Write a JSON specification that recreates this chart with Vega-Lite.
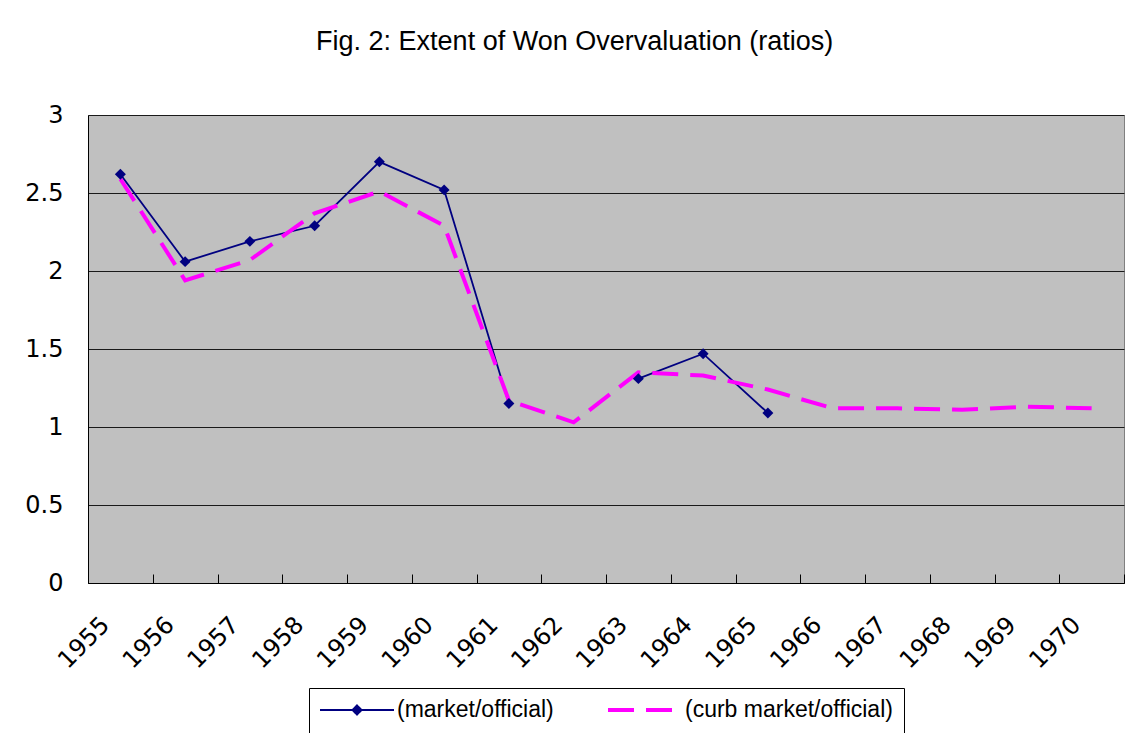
{
  "$schema": "https://vega.github.io/schema/vega-lite/v6.json",
  "width": 1036,
  "height": 468,
  "autosize": {"type": "none"},
  "padding": {"left": 88, "top": 115, "right": 4, "bottom": 150},
  "background": "white",
  "title": {
    "text": "Fig. 2: Extent of Won Overvaluation (ratios)",
    "frame": "bounds",
    "anchor": "middle",
    "font": "Liberation Sans",
    "fontSize": 27,
    "fontWeight": "normal",
    "color": "black",
    "offset": 47
  },
  "data": {
    "values": [
      {"year": "1955", "series": "(market/official)", "ratio": 2.62},
      {"year": "1956", "series": "(market/official)", "ratio": 2.06},
      {"year": "1957", "series": "(market/official)", "ratio": 2.19},
      {"year": "1958", "series": "(market/official)", "ratio": 2.29},
      {"year": "1959", "series": "(market/official)", "ratio": 2.70},
      {"year": "1960", "series": "(market/official)", "ratio": 2.52},
      {"year": "1961", "series": "(market/official)", "ratio": 1.15},
      {"year": "1962", "series": "(market/official)", "ratio": null},
      {"year": "1963", "series": "(market/official)", "ratio": 1.31},
      {"year": "1964", "series": "(market/official)", "ratio": 1.47},
      {"year": "1965", "series": "(market/official)", "ratio": 1.09},
      {"year": "1955", "series": "(curb market/official)", "ratio": 2.59},
      {"year": "1956", "series": "(curb market/official)", "ratio": 1.94},
      {"year": "1957", "series": "(curb market/official)", "ratio": 2.07},
      {"year": "1958", "series": "(curb market/official)", "ratio": 2.37},
      {"year": "1959", "series": "(curb market/official)", "ratio": 2.51},
      {"year": "1960", "series": "(curb market/official)", "ratio": 2.29},
      {"year": "1961", "series": "(curb market/official)", "ratio": 1.17},
      {"year": "1962", "series": "(curb market/official)", "ratio": 1.03},
      {"year": "1963", "series": "(curb market/official)", "ratio": 1.35},
      {"year": "1964", "series": "(curb market/official)", "ratio": 1.33},
      {"year": "1965", "series": "(curb market/official)", "ratio": 1.24},
      {"year": "1966", "series": "(curb market/official)", "ratio": 1.12},
      {"year": "1967", "series": "(curb market/official)", "ratio": 1.12},
      {"year": "1968", "series": "(curb market/official)", "ratio": 1.11},
      {"year": "1969", "series": "(curb market/official)", "ratio": 1.13},
      {"year": "1970", "series": "(curb market/official)", "ratio": 1.12}
    ]
  },
  "encoding": {
    "x": {
      "field": "year",
      "type": "ordinal",
      "bandPosition": 0.5,
      "scale": {"type": "band", "paddingInner": 0, "paddingOuter": 0},
      "axis": {
        "title": null,
        "labelAngle": -45,
        "labelAlign": "right",
        "labelBaseline": "middle",
        "labelFont": "DejaVu Sans",
        "labelFontSize": 24,
        "labelColor": "black",
        "labelPadding": 47,
        "labelOffset": -15,
        "labelOverlap": false,
        "labelBound": false,
        "labelFlush": false,
        "tickBand": "extent",
        "tickSize": -9,
        "tickColor": "black",
        "tickWidth": 1,
        "domainColor": "black",
        "domainWidth": 1,
        "grid": false
      }
    },
    "y": {
      "field": "ratio",
      "type": "quantitative",
      "scale": {"domain": [0, 3], "nice": false, "zero": true},
      "axis": {
        "title": null,
        "values": [0, 0.5, 1, 1.5, 2, 2.5, 3],
        "format": "~g",
        "labelFont": "DejaVu Sans",
        "labelFontSize": 24,
        "labelColor": "black",
        "labelPadding": 25,
        "labelFlush": false,
        "ticks": false,
        "tickSize": 0,
        "domainColor": "black",
        "domainWidth": 1,
        "grid": true,
        "gridColor": "#1a1a1a",
        "gridWidth": 1
      }
    }
  },
  "layer": [
    {
      "transform": [{"filter": "datum.series === '(market/official)'"}],
      "mark": {"type": "line", "strokeWidth": 1.8, "invalid": "break-paths-show-domains"},
      "encoding": {
        "color": {
          "field": "series",
          "type": "nominal",
          "sort": ["(market/official)", "(curb market/official)"],
          "scale": {
            "domain": ["(market/official)", "(curb market/official)"],
            "range": ["#000080", "#FF00FF"]
          },
          "legend": {
            "orient": "bottom",
            "direction": "horizontal",
            "title": null,
            "strokeColor": "black",
            "fillColor": "white",
            "padding": 11,
            "offset": 15,
            "labelFont": "Liberation Sans",
            "labelFontSize": 23,
            "labelColor": "black",
            "labelLimit": 500,
            "symbolType": "stroke",
            "symbolSize": 5476,
            "clipHeight": 22,
            "symbolOffset": 0,
            "labelOffset": 3,
            "columnPadding": 54,
            "encode": {
              "symbols": {
                "update": {
                  "x": {"value": 37},
                  "shape": {"signal": "datum.value === '(market/official)' ? 'M-1,0H1M0,-0.125L0.125,0L0,0.125L-0.125,0Z' : 'M-1,0H1'"},
                  "fill": {"signal": "datum.value === '(market/official)' ? '#000080' : 'transparent'"},
                  "stroke": {"signal": "datum.value === '(market/official)' ? '#000080' : '#FF00FF'"},
                  "strokeDash": {"signal": "datum.value === '(market/official)' ? [1, 0] : [26, 12]"},
                  "strokeWidth": {"signal": "datum.value === '(market/official)' ? 1.8 : 4"},
                  "strokeCap": {"value": "butt"},
                  "opacity": {"value": 1}
                }
              },
              "labels": {
                "update": {
                  "x": {"value": 77}
                }
              }
            }
          }
        }
      }
    },
    {
      "transform": [{"filter": "datum.series === '(curb market/official)'"}],
      "mark": {"type": "line", "strokeWidth": 4, "strokeDash": [26, 12]},
      "encoding": {
        "color": {
          "field": "series",
          "type": "nominal",
          "sort": ["(market/official)", "(curb market/official)"],
          "scale": {
            "domain": ["(market/official)", "(curb market/official)"],
            "range": ["#000080", "#FF00FF"]
          }
        }
      }
    },
    {
      "transform": [{"filter": "datum.series === '(market/official)' && isValid(datum.ratio)"}],
      "mark": {"type": "point", "shape": "diamond", "filled": true, "size": 120, "color": "#000080", "opacity": 1}
    }
  ],
  "config": {
    "view": {"fill": "#C0C0C0", "stroke": "#808080", "strokeWidth": 1},
    "legend": {"layout": {"bottom": {"anchor": "middle"}}}
  }
}
